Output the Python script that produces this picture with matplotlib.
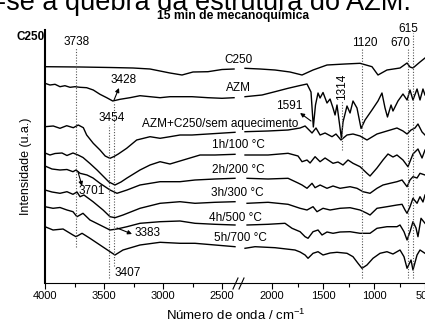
import matplotlib
matplotlib.use('Agg')
import matplotlib.pyplot as plt
from matplotlib.lines import Line2D
import numpy as np

plt.rcParams['font.family'] = ['Liberation Sans', 'DejaVu Sans']
plt.rcParams['mathtext.default'] = 'regular'

# ---------------- data (wavenumber cm-1, intensity u.a.) ----------------
c250_wn = [4000, 3703, 3449, 3254, 3110, 2941, 2839, 2746, 2619, 2500, 2398,
           2265, 2118, 1971, 1824, 1706, 1598, 1461, 1284, 1137, 1020, 961, 873,
           745, 676, 647, 618, 549, 500]
c250_int = [216.3, 216, 215.5, 215, 214, 210, 208, 211, 211.3, 213.5, 214,
            214.7, 214, 213, 211, 208, 213, 218, 219, 219.7, 216.3, 208, 213,
            215, 220, 216, 215, 221, 225]

azm_wn = [4000, 3958, 3915, 3873, 3831, 3788, 3746, 3703, 3647, 3591, 3534, 3477,
          3426, 3364, 3280, 3195, 3110, 3025, 2941, 2856, 2754, 2619, 2500, 2398,
          2265, 2098, 1971, 1843, 1725, 1657, 1618, 1595, 1574, 1549, 1529, 1500,
          1461, 1431, 1402, 1382, 1363, 1320, 1304, 1265, 1235, 1206, 1167, 1127,
          1088, 1020, 961, 922, 892, 868, 833, 814, 765, 716, 676, 647, 618, 578,
          549, 520, 500]
azm_int = [199.7, 198, 198.7, 196.3, 197.3, 195.7, 196.3, 195.7, 195.3, 193, 188.7, 185.3,
           182, 183.7, 185.3, 187.3, 186.3, 185.3, 186.3, 186.3, 186.3, 185.3, 184.7, 185.3,
           186.3, 188, 191.3, 194.7, 197.5, 199, 191, 156, 178, 190, 185, 190.5,
           180, 184, 175, 168, 178, 145, 161, 177, 170, 182, 175, 154.5,
           163, 173, 182, 190, 175, 166, 178, 172, 182, 189, 183, 193, 183, 194,
           183, 194, 188]

sem_wn = [4000, 3930, 3873, 3816, 3760, 3718, 3675, 3647, 3591, 3534, 3490, 3450,
          3415, 3379, 3308, 3223, 3110, 3025, 2941, 2856, 2754, 2619, 2390,
          2265, 2039, 1843, 1725, 1676, 1627, 1608, 1569, 1529, 1480, 1412, 1373,
          1324, 1265, 1206, 1137, 1069, 1020, 971, 873, 775, 716, 676, 637, 598,
          569, 529, 500]
sem_int = [156.3, 157, 154.7, 157.3, 155.3, 158, 155.3, 148, 139.7, 133, 127, 124.7,
           126.5, 129, 134.7, 143, 146.3, 144.7, 146.3, 148, 148, 149, 150.7,
           151.3, 152, 153, 155, 157, 152, 150, 155, 148, 150, 146.3, 149,
           143, 148, 149, 147, 143, 146, 149, 152, 155, 152, 149, 153, 155,
           159, 151, 148]

h1_wn = [4000, 3958, 3915, 3856, 3814, 3763, 3720, 3678, 3619, 3559, 3500, 3458,
         3407, 3356, 3305, 3195, 3110, 3025, 2941, 2856, 2686, 2559, 2390,
         2265, 2039, 1843, 1745, 1706, 1657, 1627, 1578, 1529, 1480, 1402, 1353,
         1304, 1255, 1206, 1137, 1069, 1039, 971, 912, 863, 814, 775, 716, 667,
         618, 569, 529, 500]
h1_int = [130, 128, 129.5, 130, 127.5, 130, 128, 125.5, 119.5, 113, 106, 101,
          98, 101, 105, 113, 118, 121.3, 119, 122, 128, 128, 128.7,
          128, 128, 129.7, 127, 121.3, 123, 120, 126.3, 121.3, 125, 119.7, 121,
          118, 123, 119.7, 116.3, 109.7, 107, 115, 123, 129, 126, 128, 123, 116.3,
          129, 134, 125, 133]

h2_wn = [4000, 3941, 3873, 3814, 3763, 3737, 3703, 3644, 3593, 3534, 3449, 3390,
         3305, 3195, 3025, 2856, 2729, 2559, 2390,
         2245, 2039, 1843, 1745, 1706, 1657, 1608, 1578, 1529, 1461, 1402, 1333,
         1235, 1167, 1108, 1039, 971, 912, 843, 775, 725, 676, 647, 618, 578,
         549, 500]
h2_int = [117, 114, 113, 113.5, 111.3, 113, 109.7, 108, 105, 99.7, 93, 89.7,
          93, 98, 101.3, 101.3, 103, 104, 104.7,
          104.7, 104, 104.7, 100, 98, 94.7, 99.7, 95.3, 98, 94.7, 97, 94.7,
          96.3, 94.7, 91.3, 89.7, 94.7, 98, 99.7, 101.3, 103, 96.3, 103, 106.3, 105,
          109.7, 108]

h3_wn = [4000, 3941, 3873, 3814, 3763, 3729, 3703, 3670, 3593, 3508, 3449, 3407,
         3339, 3195, 3025, 2856, 2729, 2559, 2390,
         2245, 2039, 1843, 1725, 1657, 1598, 1559, 1500, 1431, 1333, 1235, 1137,
         1069, 1039, 971, 873, 775, 725, 696, 676, 647, 618, 578, 549, 520, 500]
h3_int = [93, 91, 89.7, 91.3, 88.7, 91, 86.3, 88, 81.3, 73, 66.3, 65.3,
          68, 74.7, 79.7, 81.3, 79.7, 80.7, 81.3,
          79.7, 80.7, 78.7, 74.7, 73, 76.3, 71.3, 74.7, 73, 74.7, 75.3, 73,
          69.7, 68, 74.7, 76.3, 78, 78.7, 73, 69.7, 76.3, 84.7, 79.7, 86.3, 81, 88]

h4_wn = [4000, 3932, 3873, 3814, 3763, 3729, 3678, 3619, 3534, 3449, 3390, 3305,
         3195, 3025, 2856, 2729, 2559, 2390,
         2245, 2039, 1873, 1804, 1725, 1676, 1647, 1598, 1549, 1510, 1461, 1402,
         1333, 1235, 1137, 1039, 971, 873, 775, 745, 706, 676, 647, 618, 588, 569,
         539, 500]
h4_int = [76.3, 74.7, 75.5, 73, 71.3, 66.3, 69.7, 63, 58, 53, 54, 56.3,
          59.7, 61.3, 62, 59.7, 58.7, 58,
          58, 58.7, 59.7, 54.7, 51.3, 46.3, 44.7, 51.3, 53, 48, 51, 49.7,
          51, 51.3, 49.7, 49.7, 54.7, 56.3, 56.3, 58, 51.3, 43, 51.3, 61.3, 55, 46.3,
          64.7, 59.7]

h5_wn = [4000, 3932, 3847, 3763, 3737, 3686, 3619, 3534, 3449, 3407, 3339, 3195,
         3025, 2856, 2729, 2559, 2390,
         2265, 2167, 1971, 1775, 1725, 1676, 1647, 1598, 1549, 1500, 1431, 1363,
         1265, 1206, 1157, 1118, 1069, 1010, 941, 873, 814, 745, 706, 676, 637,
         618, 578, 549, 500]
h5_int = [56.3, 53, 54, 48, 46.3, 49.7, 44.7, 38, 31.3, 28, 33, 38,
          40.7, 39.7, 39.7, 38, 36.3,
          34.7, 36.3, 35.3, 33, 31, 28, 24.7, 29.7, 31.3, 28, 30, 30.7,
          29.7, 26.3, 19.7, 14.7, 18, 24.7, 29.7, 31.3, 29, 33, 26.3, 14.7, 23,
          13, 28, 33, 29.7]

series_labels = ['C250', 'AZM', 'AZM+C250/sem aquecimento', '1h/100 \u00b0C',
                 '2h/200 \u00b0C', '3h/300 \u00b0C', '4h/500 \u00b0C', '5h/700 \u00b0C']
series = [(c250_wn, c250_int), (azm_wn, azm_int), (sem_wn, sem_int), (h1_wn, h1_int),
          (h2_wn, h2_int), (h3_wn, h3_int), (h4_wn, h4_int), (h5_wn, h5_int)]

left_ticks = [4000, 3500, 3000, 2500]
right_ticks = [2000, 1500, 1000, 500]

# ---------------- figure ----------------
W, H = 425, 322
fig = plt.figure(figsize=(W / 100, H / 100), dpi=100)


def rect(x0, y0, x1, y1):
    return [x0 / W, 1 - y1 / H, (x1 - x0) / W, (y1 - y0) / H]


ax1 = fig.add_axes(rect(45, 30, 239, 283))
ax2 = fig.add_axes(rect(239, 30, 425, 283))
ax1.set_xlim(4000, 2356)
ax2.set_xlim(2324, 500)
for ax in (ax1, ax2):
    ax.set_ylim(0, 253)
    ax.set_yticks([])
    ax.spines['top'].set_visible(False)
    ax.spines['right'].set_visible(False)
    ax.spines['bottom'].set_linewidth(0.8)
    ax.tick_params(axis='x', which='both', direction='out', width=0.8,
                   labelsize=8, pad=2)
    ax.tick_params(axis='x', which='major', length=4)
    ax.tick_params(axis='x', which='minor', length=3)
    ax.patch.set_alpha(0)
ax2.spines['left'].set_visible(False)
ax1.spines['left'].set_linewidth(1.5)
ax1.set_xticks(left_ticks)
ax1.set_xticks([3750, 3250, 2750], minor=True)
ax2.set_xticks(right_ticks)
ax2.set_xticks([1750, 1250, 750], minor=True)

for wn, inten in series:
    wn = np.asarray(wn, float)
    inten = np.asarray(inten, float)
    m = wn >= 2330
    ax1.plot(wn[m], inten[m], color='k', lw=1.0)
    ax2.plot(wn[~m], inten[~m], color='k', lw=1.0)

# dotted guide lines
dot = dict(color='#555555', lw=0.8, linestyle=(0, (1, 1.5)))
ax1.plot([3738, 3738], [36, 235], **dot)
ax1.plot([3454, 3454], [5, 158], **dot)
ax1.plot([3415, 3415], [17, 181], **dot)
ax2.plot([1314, 1314], [133, 183], **dot)
ax2.plot([1120, 1120], [5, 235], **dot)
ax2.plot([670, 670], [5, 235], **dot)
ax2.plot([615, 615], [5, 250], **dot)

# peak labels
fs_num = 8.5
ax1.text(3729, 241, '3738', fontsize=fs_num, ha='center', va='center')
ax1.text(3330, 203, '3428', fontsize=fs_num, ha='center', va='center')
ax1.text(3436, 165, '3454', fontsize=fs_num, ha='center', va='center')
ax1.text(3606, 92, '3701', fontsize=fs_num, ha='center', va='center')
ax1.text(3131, 50, '3383', fontsize=fs_num, ha='center', va='center')
ax1.text(3301, 10, '3407', fontsize=fs_num, ha='center', va='center')
ax2.text(1088, 240, '1120', fontsize=fs_num, ha='center', va='center')
ax2.text(745, 240, '670', fontsize=fs_num, ha='center', va='center')
ax2.text(667, 254, '615', fontsize=fs_num, ha='center', va='center', clip_on=False)
ax2.text(1833, 177, '1591', fontsize=fs_num, ha='center', va='center')
ax2.text(1314, 196, '1314', fontsize=fs_num, ha='center', va='center', rotation=90)

arrow = dict(arrowstyle='-|>', color='k', lw=0.8, mutation_scale=6,
             shrinkA=0, shrinkB=0)
ax1.annotate('', xy=(3373, 195), xytext=(3415, 183), arrowprops=arrow)
ax2.annotate('', xy=(1725, 170), xytext=(1618, 162), arrowprops=arrow)
ax1.annotate('', xy=(3686, 97), xytext=(3720, 111), arrowprops=arrow)
ax1.annotate('', xy=(3263, 49), xytext=(3390, 55), arrowprops=arrow)

# curve labels
fs_lab = 8.5
lab_pos = [(2364, 223), (2364, 195), (2517, 159), (2364, 138),
           (2364, 113), (2373, 90), (2390, 65), (2347, 45)]
for (lx, ly), txt in zip(lab_pos, series_labels):
    ax1.text(lx, ly, txt, fontsize=fs_lab, ha='center', va='center', clip_on=False)

# axis break marks
for x0 in (233, 239):
    fig.add_artist(Line2D([x0 / W, (x0 + 5) / W], [1 - 289 / H, 1 - 278 / H],
                          color='k', lw=0.8))

# texts
fig.text(26 / W, 1 - 166 / H, 'Intensidade (u.a.)', rotation=90, fontsize=9,
         ha='center', va='center')
fig.text(236 / W, 1 - 315 / H, 'N\u00famero de onda / cm$^{-1}$', fontsize=9.5,
         ha='center', va='center')
fig.text(-3 / W, 1 - 10.5 / H, '-se a quebra da estrutura do AZM.', fontsize=19.5,
         ha='left', va='baseline')
fig.text(233 / W, 1 - 15.5 / H, '15 min de mecanoqu\u00edmica', fontsize=8.7,
         fontweight='bold', ha='center', va='center')
fig.text(31 / W, 1 - 37 / H, 'C250', fontsize=8.5, fontweight='bold',
         ha='center', va='center')

fig.savefig('out.png', dpi=100)
